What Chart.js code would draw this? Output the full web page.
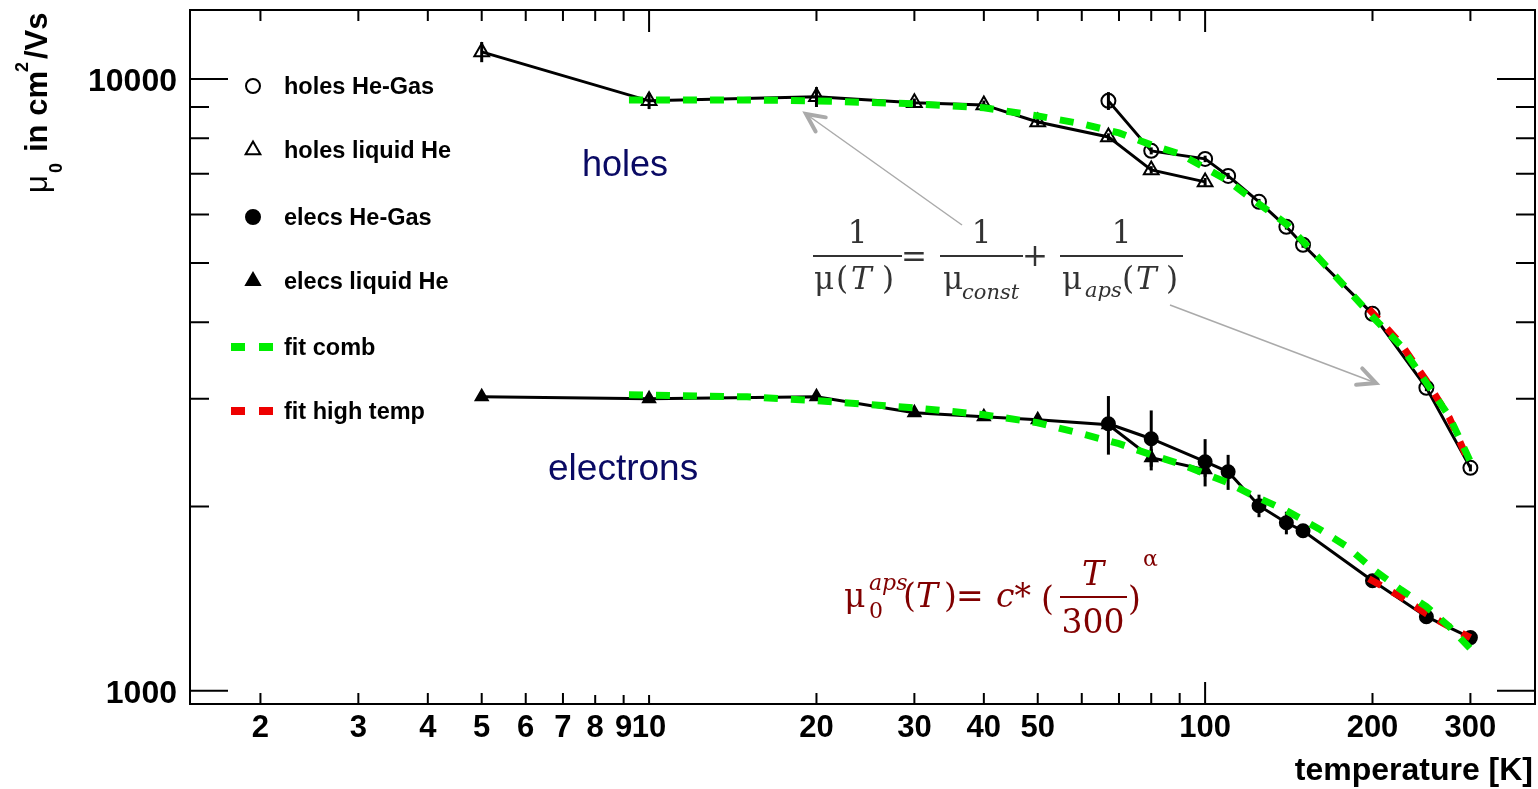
<!DOCTYPE html>
<html>
<head>
<meta charset="utf-8">
<script src="https://cdn.jsdelivr.net/npm/chart.js@4.4.1/dist/chart.umd.min.js"></script>
<style>
  body { margin: 0; background: #fff; }
  canvas { display: block; }
</style>
</head>
<body>
<canvas id="mobility" width="1538" height="789"></canvas>
<script>
// temperatures [K]
const tempLiquid = [5, 10, 20, 30, 40, 50, 67, 80, 100];
const tempGas = [67, 80, 100, 110, 125, 140, 150, 200, 250, 300];
const tempFit = [9.2, 15, 20, 30, 40, 50, 60, 70, 80, 90, 100, 110, 120, 140, 160, 180, 200, 225, 250, 275, 300];
const tempHigh = [197, 225, 250, 275, 300];

// mobility mu0 in cm2/Vs
const holesGas = [9206, 7627, 7400, 6941, 6295, 5731, 5356, 4130, 3127, 2313];
const holesGasErr = [310, 100, 90, 80, 70, 60, 60, 50, 40, 30];
const holesLiquid = [11069, 9206, 9346, 9137, 9068, 8504, 8038, 7100, 6786];
const holesLiquidErr = [420, 280, 350, 150, 150, 120, 110, 100, 100];
const elecsGas = [2731, 2581, 2367, 2279, 2006, 1881, 1825, 1512, 1321, 1221];
const elecsGasErr = [300, 290, 210, 150, 85, 80, 40, 25, 25, 20];
const elecsLiquid = [3022, 3000, 3022, 2846, 2804, 2772, 2720, 2403, 2297];
const elecsLiquidErr = [40, 40, 40, 40, 40, 40, 40, 80, 60];

const holesFitComb = [9240, 9240, 9206, 9104, 8968, 8700, 8443, 8161, 7800, 7541, 7155, 6813, 6415, 5796, 5098, 4537, 4085, 3662, 3187, 2804, 2367];
const elecsFitComb = [3045, 3022, 2978, 2900, 2825, 2741, 2630, 2533, 2430, 2349, 2263, 2187, 2099, 1969, 1840, 1719, 1582, 1462, 1372, 1272, 1171];
const holesFitHigh = [4209, 3690, 3210, 2793, 2331];
const elecsFitHigh = [1524, 1424, 1336, 1272, 1221];

// axis labels
const xTickLabels = [2, 3, 4, 5, 6, 7, 8, 9, 10, 20, 30, 40, 50, 100, 200, 300];
const xMinorTicks = [2, 3, 4, 5, 6, 7, 8, 9, 20, 30, 40, 50, 60, 70, 80, 90, 200, 300];
const xMajorTicks = [10, 100];
const yTickLabels = [1000, 10000];
const yMinorTicks = [2000, 3000, 4000, 5000, 6000, 7000, 8000, 9000];

function pts(xs, ys) {
  return xs.map((x, i) => ({ x: x, y: ys[i] }));
}

const SANS = "'Liberation Sans', Arial, sans-serif";
const SERIF = "'DejaVu Serif', serif";

// vertical error bars, drawn under the markers
const errorBars = {
  id: 'errorBars',
  beforeDatasetsDraw(chart) {
    const ctx = chart.ctx;
    const xs = chart.scales.x, ys = chart.scales.y;
    const sets = [
      [tempGas, holesGas, holesGasErr],
      [tempLiquid, holesLiquid, holesLiquidErr],
      [tempGas, elecsGas, elecsGasErr],
      [tempLiquid, elecsLiquid, elecsLiquidErr]
    ];
    ctx.save();
    ctx.strokeStyle = '#000';
    ctx.lineWidth = 3;
    sets.forEach(([t, v, e]) => {
      t.forEach((temp, i) => {
        const px = xs.getPixelForValue(temp);
        ctx.beginPath();
        ctx.moveTo(px, ys.getPixelForValue(v[i] + e[i]));
        ctx.lineTo(px, ys.getPixelForValue(v[i] - e[i]));
        ctx.stroke();
      });
    });
    ctx.restore();
  }
};

function arrow(ctx, x0, y0, x1, y1) {
  const a = Math.atan2(y1 - y0, x1 - x0);
  ctx.lineWidth = 1.5;
  ctx.beginPath();
  ctx.moveTo(x0, y0);
  ctx.lineTo(x1, y1);
  ctx.stroke();
  ctx.lineWidth = 4;
  ctx.lineCap = 'round';
  ctx.beginPath();
  ctx.moveTo(x1 - 20 * Math.cos(a - 0.45), y1 - 20 * Math.sin(a - 0.45));
  ctx.lineTo(x1, y1);
  ctx.lineTo(x1 - 20 * Math.cos(a + 0.45), y1 - 20 * Math.sin(a + 0.45));
  ctx.stroke();
  ctx.lineCap = 'butt';
}

function txt(ctx, s, x, y, font, align) {
  ctx.font = font;
  ctx.textAlign = align || 'left';
  ctx.fillText(s, x, y);
}

const frame = {
  id: 'frame',
  afterDraw(chart) {
    const ctx = chart.ctx;
    const a = chart.chartArea;
    const xs = chart.scales.x, ys = chart.scales.y;
    ctx.save();

    // frame and inward ticks
    ctx.strokeStyle = '#000';
    ctx.lineWidth = 2;
    ctx.strokeRect(a.left, a.top, a.right - a.left, a.bottom - a.top);
    ctx.beginPath();
    xMinorTicks.concat(xMajorTicks).forEach(t => {
      const px = xs.getPixelForValue(t);
      const top = xMajorTicks.includes(t) ? 22 : 11;
      const bot = t === 100 ? 22 : (t >= 8 && t <= 10 ? 9 : 11);
      ctx.moveTo(px, a.bottom); ctx.lineTo(px, a.bottom - bot);
      ctx.moveTo(px, a.top); ctx.lineTo(px, a.top + top);
    });
    yMinorTicks.concat(yTickLabels).forEach(v => {
      const py = ys.getPixelForValue(v);
      const len = yTickLabels.includes(v) ? 38 : 19;
      ctx.moveTo(a.left, py); ctx.lineTo(a.left + len, py);
      ctx.moveTo(a.right, py); ctx.lineTo(a.right - len, py);
    });
    ctx.stroke();

    // tick labels
    ctx.fillStyle = '#000';
    xTickLabels.forEach(t => {
      txt(ctx, String(t), xs.getPixelForValue(t), 737, 'bold 31px ' + SANS, 'center');
    });
    yTickLabels.forEach(v => {
      txt(ctx, String(v), 177, ys.getPixelForValue(v) + 12, 'bold 32px ' + SANS, 'right');
    });
    txt(ctx, 'temperature [K]', 1533, 780, 'bold 32px ' + SANS, 'right');

    // y axis title, rotated
    ctx.save();
    ctx.translate(47, 193);
    ctx.rotate(-Math.PI / 2);
    txt(ctx, '\u03bc', 0, 0, '31px ' + SANS);
    txt(ctx, '0', 20, 15, 'bold 18px ' + SANS);
    txt(ctx, 'in cm', 41, 0, 'bold 31px ' + SANS);
    txt(ctx, '2', 121, -19, 'bold 18px ' + SANS);
    txt(ctx, '/Vs', 134, 0, 'bold 31px ' + SANS);
    ctx.restore();

    // legend
    const legend = [
      { label: 'holes He-Gas', style: 'circle', fill: false, r: 7, y: 86 },
      { label: 'holes liquid He', style: 'triangle', fill: false, r: 8.5, y: 150 },
      { label: 'elecs He-Gas', style: 'circle', fill: true, r: 7, y: 217 },
      { label: 'elecs liquid He', style: 'triangle', fill: true, r: 8, y: 281 },
      { label: 'fit comb', dash: '#00ee00', y: 347 },
      { label: 'fit high temp', dash: '#ee0000', y: 411 }
    ];
    legend.forEach(item => {
      if (item.dash) {
        ctx.fillStyle = item.dash;
        ctx.fillRect(231, item.y - 4, 14, 8);
        ctx.fillRect(259, item.y - 4, 14, 8);
      } else {
        ctx.fillStyle = item.fill ? '#000' : 'rgba(0,0,0,0)';
        ctx.strokeStyle = '#000';
        ctx.lineWidth = 2;
        Chart.helpers.drawPoint(ctx, { pointStyle: item.style, radius: item.r, rotation: 0, borderWidth: 2 }, 253, item.y);
      }
      ctx.fillStyle = '#000';
      txt(ctx, item.label, 284, item.y + 8, 'bold 23.5px ' + SANS);
    });

    // curve labels
    ctx.fillStyle = '#0a0a64';
    txt(ctx, 'holes', 582, 176, '36px ' + SANS);
    txt(ctx, 'electrons', 548, 480, '37px ' + SANS);

    // arrows
    ctx.strokeStyle = '#aaaaaa';
    arrow(ctx, 962, 225, 806, 114);
    arrow(ctx, 1170, 305, 1376, 383);

    // formula 1/mu(T) = 1/mu_const + 1/mu_aps(T)
    ctx.fillStyle = '#333333';
    ctx.strokeStyle = '#333333';
    ctx.lineWidth = 2;
    const f = '31px ' + SERIF, fi = 'italic 31px ' + SERIF, fs = 'italic 21px ' + SERIF;
    [[813, 902], [940, 1023], [1060, 1183]].forEach(([l, r]) => {
      ctx.beginPath(); ctx.moveTo(l, 256); ctx.lineTo(r, 256); ctx.stroke();
      txt(ctx, '1', (l + r) / 2, 243, f, 'center');
    });
    txt(ctx, '\u03bc', 814, 289, f);
    txt(ctx, '(', 836, 289, f);
    txt(ctx, 'T', 851, 289, fi);
    txt(ctx, ')', 882, 289, f);
    txt(ctx, '=', 901, 267, f);
    txt(ctx, '\u03bc', 943, 289, f);
    txt(ctx, 'const', 962, 299, fs);
    txt(ctx, '+', 1022, 266, f);
    txt(ctx, '\u03bc', 1062, 289, f);
    txt(ctx, 'aps', 1085, 297, fs);
    txt(ctx, '(', 1122, 289, f);
    txt(ctx, 'T', 1136, 289, fi);
    txt(ctx, ')', 1166, 289, f);

    // formula mu0_aps(T) = c * (T/300)^alpha
    ctx.fillStyle = '#800000';
    ctx.strokeStyle = '#800000';
    const g = '33px ' + SERIF, gi = 'italic 33px ' + SERIF;
    txt(ctx, '\u03bc', 844, 607, g);
    txt(ctx, 'aps', 869, 590, 'italic 22px ' + SERIF);
    txt(ctx, '0', 869, 618, '22px ' + SERIF);
    txt(ctx, '(', 903, 607, g);
    txt(ctx, 'T', 916, 607, gi);
    txt(ctx, ')', 944, 607, g);
    txt(ctx, '=', 956, 607, g);
    txt(ctx, 'c*', 996, 607, gi);
    txt(ctx, '(', 1041, 610, g);
    ctx.lineWidth = 2;
    ctx.beginPath(); ctx.moveTo(1060, 597); ctx.lineTo(1127, 597); ctx.stroke();
    txt(ctx, 'T', 1093, 585, gi, 'center');
    txt(ctx, '300', 1093, 633, g, 'center');
    txt(ctx, ')', 1128, 610, g);
    txt(ctx, '\u03b1', 1143, 566, '22px ' + SERIF);

    ctx.restore();
  }
};

function dataSet(label, xs, ys, style, filled, r) {
  return {
    label: label,
    data: pts(xs, ys),
    showLine: true,
    borderColor: '#000',
    borderWidth: 3,
    pointStyle: style,
    pointRadius: r,
    pointBorderWidth: 2,
    pointBorderColor: '#000',
    pointBackgroundColor: filled ? '#000' : 'rgba(0,0,0,0)',
    order: 2
  };
}

function fitSet(label, xs, ys, color, order) {
  return {
    label: label,
    data: pts(xs, ys),
    showLine: true,
    borderColor: color,
    borderWidth: 7,
    borderDash: [14, 13],
    pointRadius: 0,
    order: order
  };
}

const ctx = document.getElementById('mobility').getContext('2d');
new Chart(ctx, {
  type: 'scatter',
  data: {
    datasets: [
      dataSet('holes He-Gas', tempGas, holesGas, 'circle', false, 7),
      dataSet('holes liquid He', tempLiquid, holesLiquid, 'triangle', false, 8.5),
      dataSet('elecs He-Gas', tempGas, elecsGas, 'circle', true, 6.5),
      dataSet('elecs liquid He', tempLiquid, elecsLiquid, 'triangle', true, 7),
      fitSet('fit high temp holes', tempHigh, holesFitHigh, '#ee0000', 1),
      fitSet('fit high temp elecs', tempHigh, elecsFitHigh, '#ee0000', 1),
      fitSet('fit comb holes', tempFit, holesFitComb, '#00ee00', 0),
      fitSet('fit comb elecs', tempFit, elecsFitComb, '#00ee00', 0)
    ]
  },
  options: {
    responsive: false,
    animation: false,
    layout: { autoPadding: false, padding: { left: 190, right: 3, top: 10, bottom: 85 } },
    scales: {
      x: { type: 'logarithmic', min: 1.494, max: 392, display: false, ticks: { display: false } },
      y: { type: 'logarithmic', min: 951, max: 12960, display: false, ticks: { display: false } }
    },
    plugins: {
      legend: { display: false },
      tooltip: { enabled: false }
    }
  },
  plugins: [errorBars, frame]
});
</script>
</body>
</html>
